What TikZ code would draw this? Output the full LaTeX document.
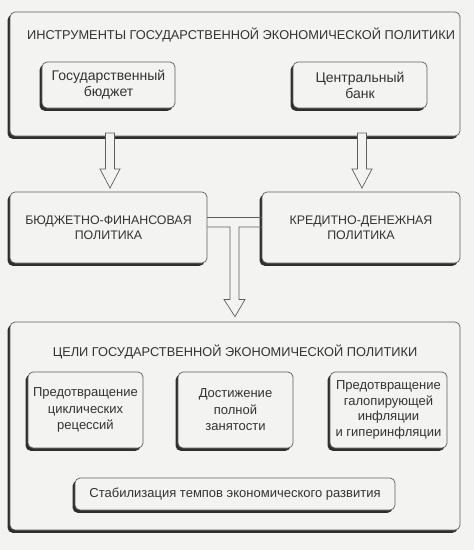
\documentclass[tikz,border=0pt]{standalone}
\usepackage{fontspec}
\setmainfont{Liberation Sans}
\usetikzlibrary{calc,shadows}
\definecolor{paper}{HTML}{F3F3F1}
\definecolor{ink}{HTML}{333333}
\definecolor{edge}{HTML}{5E5E5E}
\definecolor{shade}{HTML}{2E2E2E}
\tikzset{box/.style={draw=edge,line width=.7pt,fill=paper,rounded corners=5pt,
    text=ink,align=center,inner sep=0pt,
    drop shadow={shadow xshift=-2.4pt,shadow yshift=-2.8pt,fill=shade,opacity=1}},
  txt/.style={font=\fontsize{14}{16}\selectfont},
  mid/.style={font=\fontsize{12.4}{14.5}\selectfont},
  goal/.style={font=\fontsize{13}{16.5}\selectfont},
  head/.style={text=ink,font=\fontsize{12.8}{15}\selectfont},
  arr/.style={draw=edge,line width=.7pt,fill=paper,line join=miter}}
\newcommand{\holarrow}[2]{%
\draw[arr] ($(#1)+(-4.5,0)$) -- ($(#2)+(-4.5,-19)$) -- ($(#2)+(-10,-19)$) -- (#2)
  -- ($(#2)+(10,-19)$) -- ($(#2)+(4.5,-19)$) -- ($(#1)+(4.5,0)$) -- cycle;}

\begin{document}
\begin{tikzpicture}[x=1pt,y=-1pt]
\useasboundingbox[fill=paper] (0,0) rectangle (474,550);
\node[box,minimum width=450,minimum height=124] (tools) at (235,74) {};
\node[head] (toolstitle) at (241,35) {ИНСТРУМЕНТЫ ГОСУДАРСТВЕННОЙ ЭКОНОМИЧЕСКОЙ ПОЛИТИКИ};
\node[box,txt,minimum width=133,minimum height=46] (budget) at (108.5,85) {Государственный\\бюджет};
\node[box,txt,minimum width=134,minimum height=46] (bank) at (360,85) {Центральный\\банк};
\node[box,mid,minimum width=197,minimum height=71] (fiscal) at (108.5,227.5) {БЮДЖЕТНО-ФИНАНСОВАЯ\\ПОЛИТИКА};
\node[box,mid,minimum width=198,minimum height=71] (monetary) at (361,227.5) {КРЕДИТНО-ДЕНЕЖНАЯ\\ПОЛИТИКА};
\coordinate (a1) at (110,133);
\coordinate (t1) at (110,188);
\coordinate (a2) at (362,133);
\coordinate (t2) at (362,188);
\holarrow{a1}{t1}
\holarrow{a2}{t2}
\node[box,minimum width=450,minimum height=208] (goals) at (235,426) {};
\node[head] (goalstitle) at (235,352) {ЦЕЛИ ГОСУДАРСТВЕННОЙ ЭКОНОМИЧЕСКОЙ ПОЛИТИКИ};
\node[box,goal,minimum width=115,minimum height=76] (recess) at (85.5,410) {Предотвращение\\циклических\\рецессий};
\node[box,goal,minimum width=115,minimum height=76] (employ) at (235.5,410) {Достижение\\полной\\занятости};
\node[box,goal,minimum width=117,minimum height=76,font=\fontsize{13}{15.5}\selectfont] (inflat) at (388.5,410) {Предотвращение\\галопирующей\\инфляции\\и гиперинфляции};
\node[box,goal,minimum width=320,minimum height=32] (growth) at (235,494) {Стабилизация темпов экономического развития};
\draw[arr] ($(fiscal.east)+(0,-10.5)$) -- ($(monetary.west)+(0,-10.5)$);
\draw[arr] ($(fiscal.east)+(0,-0.5)$) -- ($(fiscal.east)!.5!(monetary.west)+(-4.5,-.5)$)
  -- ($(fiscal.east)!.5!(monetary.west)+(-4.5,72)$) -- ($(fiscal.east)!.5!(monetary.west)+(-10.5,72)$)
  -- ($(goals.north)+(0,-5)$) -- ($(fiscal.east)!.5!(monetary.west)+(10.5,72)$)
  -- ($(fiscal.east)!.5!(monetary.west)+(4.5,72)$) -- ($(fiscal.east)!.5!(monetary.west)+(4.5,-.5)$)
  -- ($(monetary.west)+(0,-.5)$);
\end{tikzpicture}
\end{document}
